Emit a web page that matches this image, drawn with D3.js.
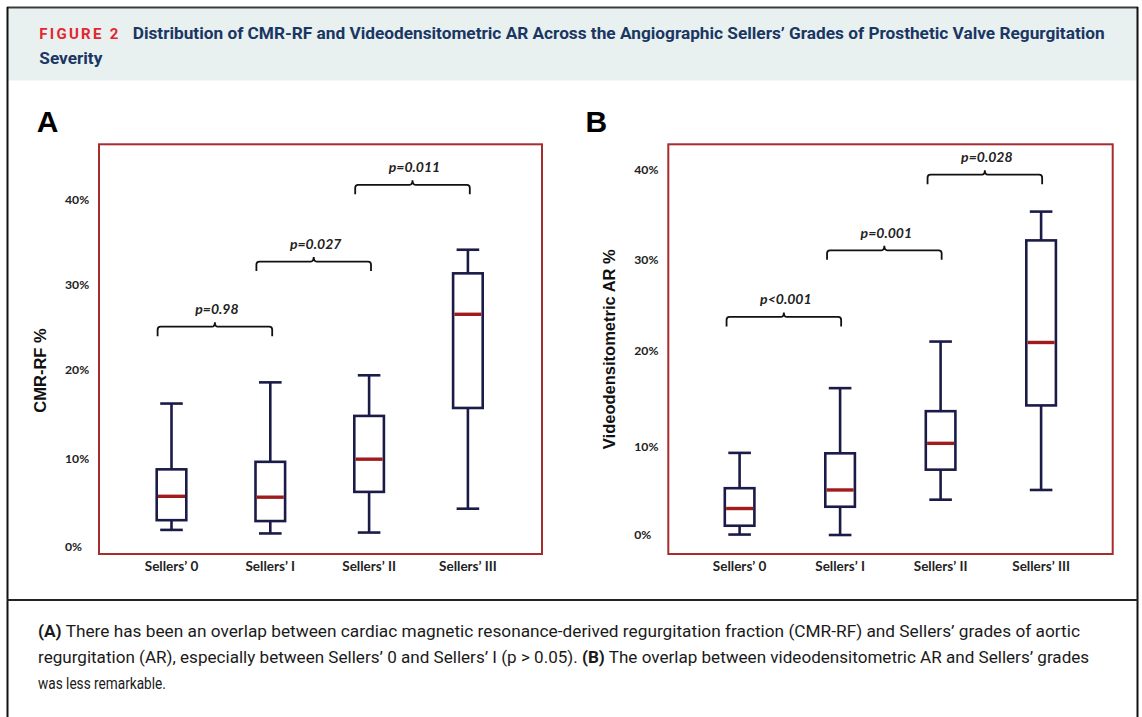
<!DOCTYPE html>
<html><head><meta charset="utf-8">
<script src="https://cdn.jsdelivr.net/npm/d3@7"></script>
<style>html,body{margin:0;padding:0;background:#fff;} svg{display:block;}</style>
</head><body>
<svg id="chart" width="1142" height="717"></svg>
<script>
// ---------- DATA ----------
const categories = ["Sellers\u2019 0", "Sellers\u2019 I", "Sellers\u2019 II", "Sellers\u2019 III"];
const yTickValues = [0, 10, 20, 30, 40];
const yTickLabels = ["0%", "10%", "20%", "30%", "40%"];

// Panel A: CMR-RF %
const cmrWhiskerLow  = [1.9, 1.5, 1.6, 4.3];
const cmrQ1          = [3.0, 2.9, 6.2, 15.7];
const cmrMedian      = [5.7, 5.6, 9.9, 26.5];
const cmrQ3          = [8.75, 9.6, 14.8, 31.3];
const cmrWhiskerHigh = [16.2, 18.6, 19.4, 34.1];
const cmrPValues     = ["p=0.98", "p=0.027", "p=0.011"];
const cmrBracketLevel = [25.05, 32.7, 41.8];

// Panel B: Videodensitometric AR %
const vdWhiskerLow  = [0.05, 0.0, 4.0, 5.1];
const vdQ1          = [1.05, 3.2, 7.4, 14.3];
const vdMedian      = [3.0, 5.1, 10.35, 20.9];
const vdQ3          = [5.3, 9.25, 13.7, 32.1];
const vdWhiskerHigh = [9.3, 16.1, 21.0, 35.3];
const vdPValues     = ["p<0.001", "p=0.001", "p=0.028"];
const vdBracketLevel = [23.7, 31.0, 39.4];

const figureLabel = "FIGURE 2";
const titleLine1 = "Distribution of CMR-RF and Videodensitometric AR Across the Angiographic Sellers\u2019 Grades of Prosthetic Valve Regurgitation";
const titleLine2 = "Severity";
const captionLines = [
  [["(A)", true], [" There has been an overlap between cardiac magnetic resonance-derived regurgitation fraction (CMR-RF) and Sellers\u2019 grades of aortic", false]],
  [["regurgitation (AR), especially between Sellers\u2019 0 and Sellers\u2019 I (p > 0.05). ", false], ["(B)", true], [" The overlap between videodensitometric AR and Sellers\u2019 grades", false]],
  [["was less remarkable.", false]]
];
const captionWidths = [1042.7, 1052, 128];

// ---------- DRAW ----------
const svg = d3.select("#chart");
const NAVY = "#1a1b47", MED = "#a01c1c", FRAME = "#a62d2d";

// header band
svg.append("rect").attr("x", 8).attr("y", 8.5).attr("width", 1129).attr("height", 72).attr("fill", "#e8f1f0");
svg.append("line").attr("x1", 7).attr("x2", 1138).attr("y1", 7.5).attr("y2", 7.5).attr("stroke", "#3a3a3a").attr("stroke-width", 2);
svg.append("line").attr("x1", 7.5).attr("x2", 7.5).attr("y1", 7).attr("y2", 717).attr("stroke", "#111").attr("stroke-width", 2);
svg.append("line").attr("x1", 1137.5).attr("x2", 1137.5).attr("y1", 7).attr("y2", 717).attr("stroke", "#111").attr("stroke-width", 2);
svg.append("line").attr("x1", 7).attr("x2", 1138).attr("y1", 600).attr("y2", 600).attr("stroke", "#222").attr("stroke-width", 2);

// title
svg.append("text").attr("x", 39.3).attr("y", 39).text(figureLabel)
  .attr("font-family", "Roboto, sans-serif").attr("font-weight", 700).attr("font-size", 15)
  .attr("fill", "#e3262f").attr("textLength", 79).attr("lengthAdjust", "spacing");
svg.append("text").attr("x", 132.7).attr("y", 39).text(titleLine1)
  .attr("font-family", "Roboto, sans-serif").attr("font-weight", 700).attr("font-size", 16)
  .attr("fill", "#1a3663").attr("textLength", 972).attr("lengthAdjust", "spacingAndGlyphs");
svg.append("text").attr("x", 39.3).attr("y", 64).text(titleLine2)
  .attr("font-family", "Roboto, sans-serif").attr("font-weight", 700).attr("font-size", 16)
  .attr("fill", "#1a3663").attr("textLength", 63).attr("lengthAdjust", "spacingAndGlyphs");

// caption
const capG = svg.append("g");
captionLines.forEach((parts, i) => {
  const t = capG.append("text").attr("x", 0).attr("y", 0)
    .attr("font-family", "Roboto, sans-serif").attr("font-size", 16.5).attr("fill", "#1a1a1a");
  parts.forEach(([s, b]) => t.append("tspan").text(s).attr("font-weight", b ? 700 : 400));
  const nat = t.node().getComputedTextLength();
  const sx = captionWidths[i] / nat;
  t.attr("transform", `translate(38,${636.7 + i * 26.3}) scale(${sx},1)`);
});

// panels
const panels = [
  { letter: "A", letterX: 36.7, frame: [99, 144.3, 542, 554], tickX: 65,
    yRange: [546.7, 458.3, 370, 284.3, 200], xRange: [171.5, 467.9],
    title: "CMR-RF %", titleX: 40, titleY: 370.5,
    lo: cmrWhiskerLow, q1: cmrQ1, med: cmrMedian, q3: cmrQ3, hi: cmrWhiskerHigh,
    p: cmrPValues, lv: cmrBracketLevel },
  { letter: "B", letterX: 585.5, frame: [668.3, 144.3, 1112.7, 554], tickX: 634.3,
    yRange: [535, 446.7, 350.7, 259.3, 169.3], xRange: [739.6, 1041.1],
    title: "Videodensitometric AR %", titleX: 609, titleY: 349.2,
    lo: vdWhiskerLow, q1: vdQ1, med: vdMedian, q3: vdQ3, hi: vdWhiskerHigh,
    p: vdPValues, lv: vdBracketLevel }
];

panels.forEach(P => {
  const g = svg.append("g");
  const y = d3.scaleLinear().domain(yTickValues).range(P.yRange);
  const x = d3.scalePoint().domain(categories).range(P.xRange);

  g.append("text").attr("x", P.letterX).attr("y", 131.7).text(P.letter)
    .attr("font-family", "Liberation Sans, Arial, sans-serif").attr("font-weight", 700).attr("font-size", 30).attr("fill", "#000");

  const [fx0, fy0, fx1, fy1] = P.frame;
  g.append("rect").attr("x", fx0).attr("y", fy0).attr("width", fx1 - fx0).attr("height", fy1 - fy0)
    .attr("fill", "none").attr("stroke", FRAME).attr("stroke-width", 2);

  // y tick labels
  g.selectAll(".yt").data(yTickValues).join("text")
    .attr("x", P.tickX).attr("y", d => y(d)).attr("dy", "0.35em")
    .text((d, i) => yTickLabels[i])
    .attr("font-family", "Lato, sans-serif").attr("font-weight", 700).attr("font-size", 12.2).attr("fill", "#222");

  // y title
  g.append("text").attr("transform", `translate(${P.titleX},${P.titleY}) rotate(-90)`)
    .attr("text-anchor", "middle").attr("dy", "0.35em").text(P.title)
    .attr("font-family", "Liberation Sans, Arial, sans-serif").attr("font-weight", 700).attr("font-size", 16.5).attr("fill", "#111");

  // x labels
  g.selectAll(".xl").data(categories).join("text")
    .attr("x", d => x(d)).attr("y", 566.7).attr("dy", "0.35em").attr("text-anchor", "middle").text(d => d)
    .attr("font-family", "Lato, sans-serif").attr("font-weight", 700).attr("font-size", 13.5).attr("fill", "#222");

  const rows = categories.map((c, i) => ({ c, lo: P.lo[i], q1: P.q1[i], med: P.med[i], q3: P.q3[i], hi: P.hi[i] }));
  const bw = 29.6, cap = 11.3, sw = 2.6;
  const bg = g.selectAll(".box").data(rows).join("g");
  bg.append("line").attr("x1", d => x(d.c)).attr("x2", d => x(d.c)).attr("y1", d => y(d.hi)).attr("y2", d => y(d.q3))
    .attr("stroke", NAVY).attr("stroke-width", sw);
  bg.append("line").attr("x1", d => x(d.c)).attr("x2", d => x(d.c)).attr("y1", d => y(d.q1)).attr("y2", d => y(d.lo))
    .attr("stroke", NAVY).attr("stroke-width", sw);
  bg.append("line").attr("x1", d => x(d.c) - cap).attr("x2", d => x(d.c) + cap).attr("y1", d => y(d.hi)).attr("y2", d => y(d.hi))
    .attr("stroke", NAVY).attr("stroke-width", sw);
  bg.append("line").attr("x1", d => x(d.c) - cap).attr("x2", d => x(d.c) + cap).attr("y1", d => y(d.lo)).attr("y2", d => y(d.lo))
    .attr("stroke", NAVY).attr("stroke-width", sw);
  bg.append("rect").attr("x", d => x(d.c) - bw / 2).attr("width", bw)
    .attr("y", d => y(d.q3)).attr("height", d => y(d.q1) - y(d.q3))
    .attr("fill", "#fff").attr("stroke", NAVY).attr("stroke-width", sw);
  bg.append("line").attr("x1", d => x(d.c) - bw / 2 + 1.3).attr("x2", d => x(d.c) + bw / 2 - 1.3)
    .attr("y1", d => y(d.med)).attr("y2", d => y(d.med)).attr("stroke", MED).attr("stroke-width", 3.4);

  // brackets
  const br = P.p.map((p, i) => ({ p, lv: P.lv[i], a: categories[i], b: categories[i + 1] }));
  const hw = 57.3;
  g.selectAll(".br").data(br).join("path")
    .attr("d", d => {
      const xm = (x(d.a) + x(d.b)) / 2 - 6, yl = y(d.lv);
      const l = xm - hw, r = xm + hw;
      return `M${l},${yl + 9.5} L${l},${yl + 3} Q${l},${yl} ${l + 3},${yl} L${xm - 3},${yl} Q${xm},${yl} ${xm},${yl - 4.5} Q${xm},${yl} ${xm + 3},${yl} L${r - 3},${yl} Q${r},${yl} ${r},${yl + 3} L${r},${yl + 9.5}`;
    })
    .attr("fill", "none").attr("stroke", "#111").attr("stroke-width", 1.8);
  g.selectAll(".pt").data(br).join("text")
    .attr("x", d => (x(d.a) + x(d.b)) / 2 - 4).attr("y", d => y(d.lv) - 17.4).attr("dy", "0.35em")
    .attr("text-anchor", "middle").text(d => d.p)
    .attr("font-family", "Lato, sans-serif").attr("font-weight", 700).attr("font-style", "italic").attr("font-size", 14).attr("fill", "#222");
});
</script>
</body></html>
